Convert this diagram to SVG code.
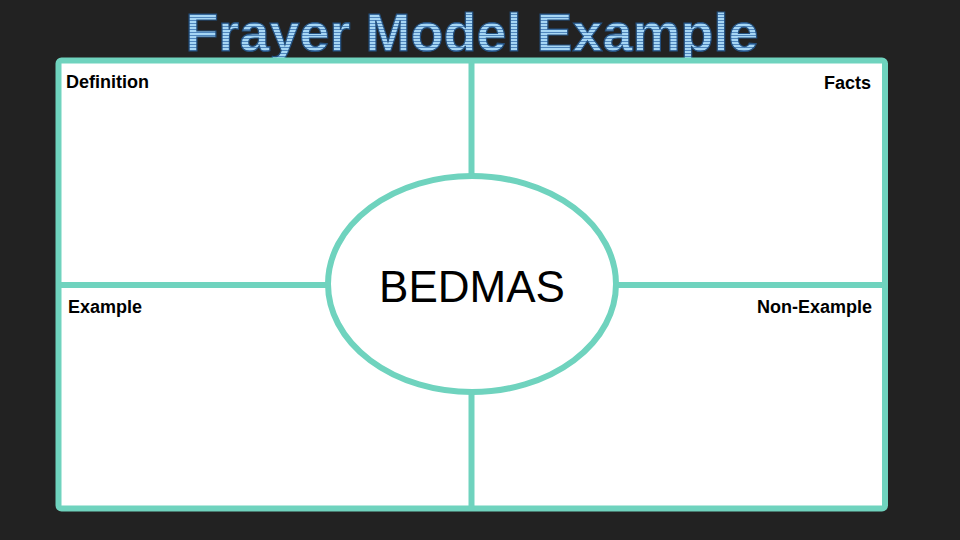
<svg xmlns="http://www.w3.org/2000/svg" width="960" height="540" viewBox="0 0 960 540">
<defs>
<pattern id="stripes" patternUnits="userSpaceOnUse" width="4" height="3">
<rect width="4" height="3" fill="#a6d6f4"/>
<rect y="2" width="4" height="1" fill="#4f86bd"/>
</pattern>
<style>
.teal{stroke:#6fd3be;stroke-width:6}
.box{fill:#ffffff}
.lbl{font-family:"Liberation Sans",Arial,sans-serif;font-weight:bold;font-size:18px;fill:#000}
</style>
</defs>
<rect width="960" height="540" fill="#222222"/>
<text x="472" y="51" text-anchor="middle" font-family="'Liberation Sans',Arial,sans-serif" font-weight="bold" font-size="54" fill="url(#stripes)" stroke="#23507f" stroke-width="1.2">Frayer Model Example</text>
<g id="frame">
<rect x="58.5" y="60.5" width="826.5" height="448" rx="3" class="teal box"/>
</g>
<g id="connectors">
<line x1="471.5" y1="60" x2="471.5" y2="176" class="teal"/>
<line x1="471.5" y1="392" x2="471.5" y2="509" class="teal"/>
<line x1="58" y1="285" x2="328" y2="285" class="teal"/>
<line x1="616" y1="285" x2="885" y2="285" class="teal"/>
</g>
<g id="definition"><text x="66" y="87.5" class="lbl">Definition</text></g>
<g id="facts"><text x="871" y="88.5" text-anchor="end" class="lbl">Facts</text></g>
<g id="example"><text x="68" y="313" class="lbl">Example</text></g>
<g id="non-example"><text x="872" y="313" text-anchor="end" class="lbl">Non-Example</text></g>
<g id="center">
<ellipse cx="472" cy="284" rx="144" ry="108" class="teal box"/>
<text x="472" y="302" text-anchor="middle" font-family="'Liberation Sans',Arial,sans-serif" font-size="44" fill="#000">BEDMAS</text>
</g>
</svg>
